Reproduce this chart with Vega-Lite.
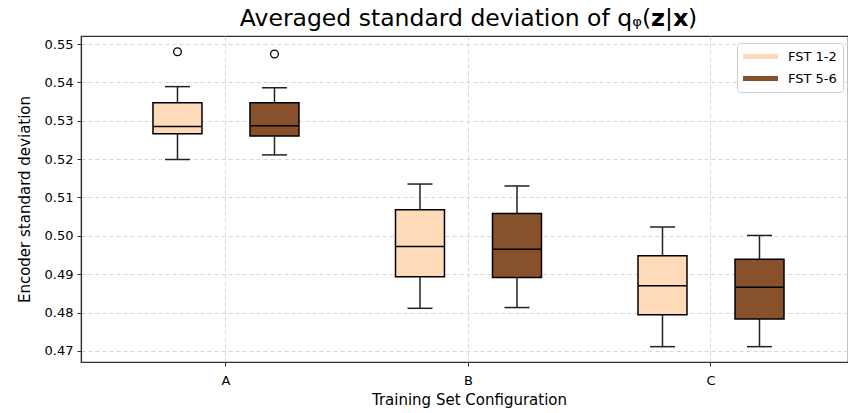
{
  "$schema": "https://vega.github.io/schema/vega-lite/v6.json",
  "width": 767,
  "height": 326,
  "padding": {"left": 17, "top": 6, "right": 0, "bottom": 4},
  "title": {
    "text": "Averaged standard deviation of qᵩ(𝘇|𝘅)",
    "fontSize": 23.5,
    "font": "DejaVu Sans",
    "fontWeight": "normal",
    "color": "black",
    "anchor": "middle",
    "dx": 4,
    "offset": 6
  },
  "data": {
    "values": [
      {"config": "A", "series": "FST 1-2", "min": 0.5199, "q1": 0.5266, "median": 0.5285, "q3": 0.5347, "max": 0.5389, "outlier": 0.5480},
      {"config": "A", "series": "FST 5-6", "min": 0.5211, "q1": 0.5260, "median": 0.5287, "q3": 0.5347, "max": 0.5386, "outlier": 0.5474},
      {"config": "B", "series": "FST 1-2", "min": 0.4811, "q1": 0.4893, "median": 0.4972, "q3": 0.5068, "max": 0.5135, "outlier": null},
      {"config": "B", "series": "FST 5-6", "min": 0.4813, "q1": 0.4891, "median": 0.4965, "q3": 0.5058, "max": 0.5130, "outlier": null},
      {"config": "C", "series": "FST 1-2", "min": 0.4711, "q1": 0.4794, "median": 0.4870, "q3": 0.4948, "max": 0.5023, "outlier": null},
      {"config": "C", "series": "FST 5-6", "min": 0.4711, "q1": 0.4783, "median": 0.4866, "q3": 0.4939, "max": 0.5001, "outlier": null}
    ]
  },
  "encoding": {
    "x": {
      "field": "config",
      "type": "nominal",
      "scale": {"paddingInner": 0, "paddingOuter": 0.0814, "align": 0.601},
      "axis": {"labelAngle": 0, "grid": true, "title": "Training Set Configuration", "titlePadding": 5, "labelPadding": 8, "titleX": 388}
    },
    "xOffset": {
      "field": "series",
      "type": "nominal",
      "scale": {"paddingInner": 0.495, "paddingOuter": 0.4975}
    }
  },
  "layer": [
    {
      "mark": {"type": "rule", "color": "#222", "strokeWidth": 1.5, "opacity": 1},
      "encoding": {
        "y": {
          "field": "min",
          "type": "quantitative",
          "scale": {"domain": [0.4671, 0.5521], "nice": false, "zero": false},
          "axis": {
            "values": [0.47, 0.48, 0.49, 0.5, 0.51, 0.52, 0.53, 0.54, 0.55],
            "format": ".2f",
            "grid": true,
            "title": "Encoder standard deviation",
            "titlePadding": 12
          }
        },
        "y2": {"field": "max"}
      }
    },
    {
      "mark": {"type": "bar", "strokeWidth": 0, "opacity": 1},
      "encoding": {
        "y": {"field": "q1", "type": "quantitative"},
        "y2": {"field": "q3"},
        "color": {
          "field": "series",
          "type": "nominal",
          "scale": {"domain": ["FST 1-2", "FST 5-6"], "range": ["#FFDAB9", "#87522B"]},
          "legend": {
            "title": null,
            "orient": "none",
            "legendX": 656,
            "legendY": 7,
            "symbolType": "M-1,-0.33H3.67V0.33H-1Z",
            "symbolSize": 225,
            "symbolStrokeWidth": 0,
            "symbolOpacity": 1,
            "labelFontSize": 13,
            "labelFont": "DejaVu Sans",
            "labelColor": "black",
            "padding": 6,
            "strokeColor": "#cccccc",
            "fillColor": "white",
            "cornerRadius": 3,
            "rowPadding": 7,
            "labelOffset": 30
          }
        }
      }
    },
    {
      "mark": {"type": "bar", "fill": "transparent", "stroke": "black", "strokeWidth": 1.5},
      "encoding": {
        "y": {"field": "q1", "type": "quantitative"},
        "y2": {"field": "q3"}
      }
    },
    {
      "mark": {"type": "tick", "color": "black", "thickness": 1.5, "size": 48, "opacity": 1},
      "encoding": {"y": {"field": "median", "type": "quantitative"}}
    },
    {
      "mark": {"type": "tick", "color": "#222", "thickness": 1.5, "size": 25, "opacity": 1},
      "encoding": {"y": {"field": "min", "type": "quantitative"}}
    },
    {
      "mark": {"type": "tick", "color": "#222", "thickness": 1.5, "size": 25, "opacity": 1},
      "encoding": {"y": {"field": "max", "type": "quantitative"}}
    },
    {
      "transform": [{"filter": "datum.outlier != null"}],
      "mark": {"type": "point", "shape": "circle", "filled": false, "color": "black", "size": 60, "strokeWidth": 1.3, "opacity": 1},
      "encoding": {"y": {"field": "outlier", "type": "quantitative"}}
    }
  ],
  "config": {
    "view": {"stroke": "#333", "strokeWidth": 1.2},
    "axis": {
      "domainColor": "#333",
      "domainWidth": 1.2,
      "tickColor": "#333",
      "tickSize": 4,
      "labelFont": "DejaVu Sans",
      "titleFont": "DejaVu Sans",
      "labelFontSize": 13,
      "titleFontSize": 15,
      "labelColor": "black",
      "titleColor": "black",
      "titleFontWeight": "normal",
      "gridDash": [4, 3],
      "gridColor": "#d3d3d3",
      "gridWidth": 0.9,
      "labelPadding": 4
    }
  }
}
